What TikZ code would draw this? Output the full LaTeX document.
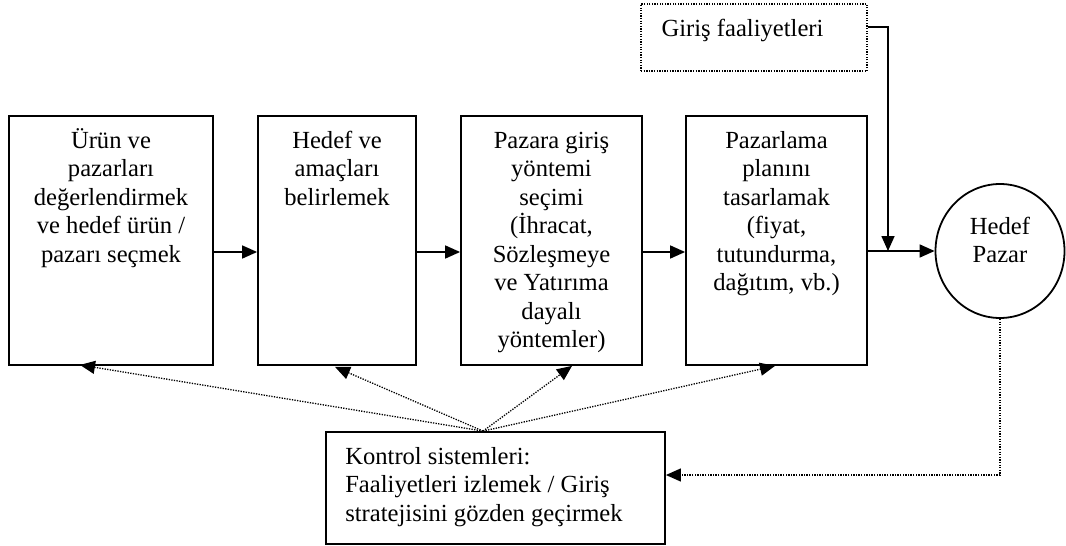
\documentclass[tikz,border=0pt]{standalone}
\usepackage{fontspec}
\setmainfont{Liberation Serif}
\usetikzlibrary{arrows.meta,shapes.geometric}
\newcommand\firststrut{\rule{0pt}{22pt}}
\begin{document}
\begin{tikzpicture}[x=1pt,y=-1pt,
  txt/.style={font=\fontsize{24.6}{28.5}\selectfont, inner sep=0pt},
  stepbox/.style={draw, line width=1.8pt, inner sep=0pt, minimum height=249pt},
  solidarrow/.style={line width=1.6pt, -{Triangle[length=15pt,width=13pt]}},
  dotarrow/.style={line width=1.3pt, dash pattern=on 1.3pt off 1.3pt, -{Triangle[length=15pt,width=13pt]}},
  dotline/.style={line width=1.3pt, dash pattern=on 1.3pt off 1.3pt}]
\useasboundingbox (0,0) rectangle (1066,546);

% process steps
\node[stepbox, minimum width=204pt] (b1) at (111,240.5) {};
\node[stepbox, minimum width=158pt] (b2) at (337,240.5) {};
\node[stepbox, minimum width=181pt] (b3) at (551.5,240.5) {};
\node[stepbox, minimum width=181pt] (b4) at (776.5,240.5) {};

\node[txt, align=center, anchor=north] (t1) at ([yshift=-11pt]b1.north)
  {\firststrut Ürün ve\\pazarları\\değerlendirmek\\ve hedef ürün /\\pazarı seçmek};
\node[txt, align=center, anchor=north] (t2) at ([yshift=-11pt]b2.north)
  {\firststrut Hedef ve\\amaçları\\belirlemek};
\node[txt, align=center, anchor=north] (t3) at ([yshift=-11pt]b3.north)
  {\firststrut Pazara giriş\\yöntemi\\seçimi\\(İhracat,\\Sözleşmeye\\ve Yatırıma\\dayalı\\yöntemler)};
\node[txt, align=center, anchor=north] (t4) at ([yshift=-11pt]b4.north)
  {\firststrut Pazarlama\\planını\\tasarlamak\\(fiyat,\\tutundurma,\\dağıtım, vb.)};

% target market
\node[draw, ellipse, line width=1.8pt, minimum width=129pt, minimum height=134pt, inner sep=0pt] (hp) at (1000,251) {};
\node[txt, align=center] (hpt) at ([yshift=11pt]hp.center) {Hedef\\Pazar};

% entry activities
\node[draw, line width=1.3pt, dash pattern=on 1.3pt off 1.3pt, minimum width=226pt, minimum height=67pt, inner sep=0pt] (giris) at (754,37.5) {};
\node[txt, align=left, anchor=north west] (gt) at ([xshift=21pt,yshift=-11pt]giris.north west)
  {\firststrut Giriş faaliyetleri};

% control systems
\node[draw, line width=1.8pt, minimum width=339pt, minimum height=112pt, inner sep=0pt] (ctrl) at (495.5,488) {};
\node[txt, align=left, anchor=north west] (ct) at ([xshift=20pt,yshift=-11pt]ctrl.north west)
  {\firststrut Kontrol sistemleri:\\Faaliyetleri izlemek / Giriş\\stratejisini gözden geçirmek};

% main flow
\draw[solidarrow] ([yshift=-11.5pt]b1.east) -- ([yshift=-11.5pt]b2.west);
\draw[solidarrow] ([yshift=-11.5pt]b2.east) -- ([yshift=-11.5pt]b3.west);
\draw[solidarrow] ([yshift=-11.5pt]b3.east) -- ([yshift=-11.5pt]b4.west);
\draw[solidarrow] ([yshift=-10.5pt]b4.east) -- (hp.west);

\coordinate (gj) at (888,251);
\draw[solidarrow] ([yshift=10.5pt]giris.east) -| (gj);

% feedback from control
\coordinate (src) at ([xshift=-12.5pt]ctrl.north);
\draw[dotarrow] (src) -- ([xshift=-31pt,yshift=1pt]b1.south);
\draw[dotarrow] (src) -- ([xshift=-2pt,yshift=-1pt]b2.south);
\draw[dotarrow] (src) -- ([xshift=20.5pt]b3.south);
\draw[dotarrow] (src) -- ([xshift=-1.5pt]b4.south);

\draw[dotarrow] (hp.south) |- ([yshift=13pt]ctrl.east);
\end{tikzpicture}
\end{document}
